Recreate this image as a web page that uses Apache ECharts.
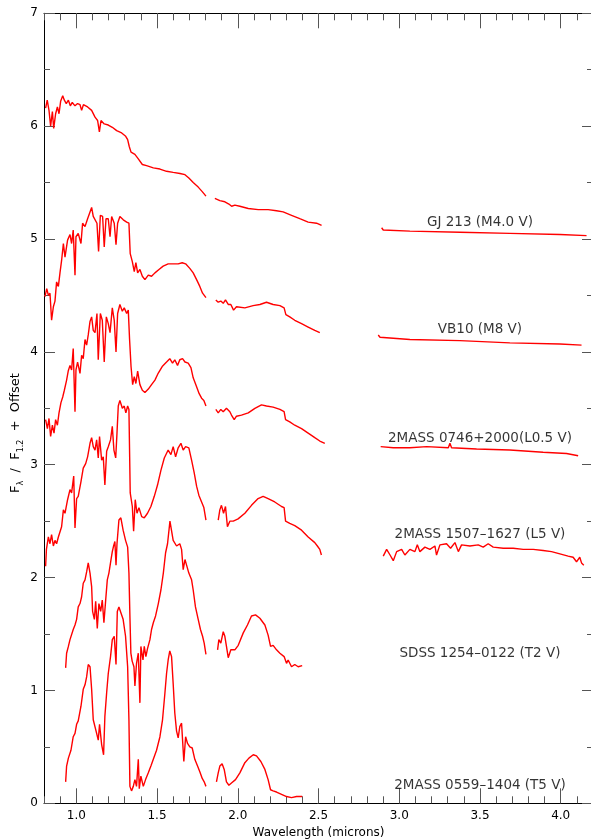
<!DOCTYPE html>
<html>
  <head>
    <meta charset="UTF-8" />
    <title>Spectral sequence</title>
    <script src="https://cdn.jsdelivr.net/npm/echarts@6/dist/echarts.min.js"></script>
    <style>
      html, body { margin: 0; padding: 0; background: #fff; }
      #main { width: 591px; height: 840px; }
    </style>
  </head>
  <body>
    <div id="main"></div>
    <script>
      // tick labels
      const majorX = [1.0, 1.5, 2.0, 2.5, 3.0, 3.5, 4.0];

      // star names, label anchors (wavelength, flux)
      const starNames = ['GJ 213 (M4.0 V)', 'VB10 (M8 V)', '2MASS 0746+2000(L0.5 V)',
        '2MASS 1507–1627 (L5 V)', 'SDSS 1254–0122 (T2 V)', '2MASS 0559–1404 (T5 V)'];
      const labelX = 3.5;
      const labelY = [5.15, 4.20, 3.23, 2.38, 1.33, 0.16];

      // spectra: [wavelength, flux + offset], split where the data has gaps
      const gj213A = [[0.810,6.16],[0.820,6.23],[0.831,6.14],[0.841,6.00],[0.852,6.13],[0.860,5.98],[0.872,6.11],[0.883,6.17],[0.893,6.11],[0.903,6.22],[0.916,6.27],[0.926,6.23],[0.938,6.20],[0.951,6.23],[0.963,6.18],[0.975,6.21],[0.992,6.18],[1.008,6.20],[1.023,6.19],[1.033,6.14],[1.044,6.19],[1.070,6.17],[1.095,6.14],[1.116,6.08],[1.132,6.05],[1.143,5.95],[1.153,6.05],[1.173,6.02],[1.198,6.01],[1.223,5.99],[1.250,5.96],[1.281,5.94],[1.306,5.91],[1.318,5.88],[1.328,5.82],[1.339,5.77],[1.363,5.75],[1.384,5.71],[1.409,5.66],[1.435,5.65],[1.477,5.63],[1.518,5.62],[1.559,5.60],[1.600,5.59],[1.642,5.58],[1.673,5.57],[1.697,5.54],[1.724,5.50],[1.755,5.46],[1.780,5.42],[1.803,5.38]];
      const gj213B = [[1.858,5.36],[1.889,5.34],[1.920,5.33],[1.945,5.31],[1.962,5.29],[1.982,5.30],[2.013,5.29],[2.065,5.27],[2.127,5.26],[2.188,5.26],[2.240,5.25],[2.281,5.24],[2.333,5.21],[2.384,5.18],[2.436,5.15],[2.488,5.14],[2.519,5.12]];
      const gj213C = [[2.891,5.10],[2.901,5.08],[3.066,5.07],[3.376,5.06],[3.685,5.05],[3.995,5.04],[4.160,5.03]];

      const vb10A = [[0.806,4.49],[0.817,4.56],[0.827,4.50],[0.837,4.52],[0.847,4.28],[0.858,4.40],[0.868,4.45],[0.878,4.62],[0.889,4.58],[0.899,4.70],[0.909,4.81],[0.920,4.96],[0.930,4.84],[0.946,4.99],[0.961,5.04],[0.971,4.96],[0.981,5.08],[0.992,4.68],[0.998,5.02],[1.012,5.05],[1.029,4.96],[1.039,5.14],[1.054,5.11],[1.070,5.18],[1.085,5.24],[1.095,5.28],[1.105,5.20],[1.116,5.21],[1.128,5.14],[1.138,4.89],[1.149,5.21],[1.163,5.20],[1.173,4.93],[1.184,5.18],[1.198,5.18],[1.209,5.02],[1.219,5.20],[1.235,5.14],[1.246,4.95],[1.256,5.14],[1.270,5.20],[1.291,5.17],[1.312,5.15],[1.326,5.14],[1.334,4.87],[1.347,4.80],[1.359,4.71],[1.369,4.79],[1.380,4.70],[1.394,4.73],[1.409,4.67],[1.425,4.64],[1.446,4.68],[1.466,4.67],[1.487,4.70],[1.512,4.73],[1.538,4.76],[1.569,4.78],[1.600,4.78],[1.631,4.78],[1.656,4.79],[1.677,4.78],[1.703,4.74],[1.724,4.70],[1.745,4.64],[1.765,4.58],[1.782,4.52],[1.803,4.48]];
      const vb10B = [[1.864,4.46],[1.879,4.44],[1.895,4.45],[1.910,4.43],[1.924,4.46],[1.941,4.42],[1.957,4.42],[1.974,4.37],[1.992,4.40],[2.044,4.39],[2.095,4.41],[2.137,4.42],[2.178,4.44],[2.219,4.42],[2.261,4.41],[2.287,4.39],[2.298,4.33],[2.322,4.31],[2.353,4.28],[2.395,4.25],[2.436,4.22],[2.477,4.19],[2.508,4.17]];
      const vb10C = [[2.870,4.15],[2.881,4.13],[3.066,4.11],[3.376,4.10],[3.685,4.08],[3.995,4.07],[4.129,4.06]];

      const l05A = [[0.810,3.40],[0.821,3.32],[0.831,3.41],[0.841,3.25],[0.852,3.35],[0.862,3.28],[0.872,3.40],[0.883,3.35],[0.893,3.46],[0.905,3.55],[0.916,3.60],[0.926,3.66],[0.940,3.75],[0.950,3.83],[0.961,3.88],[0.971,3.84],[0.981,4.03],[0.992,3.47],[0.998,3.84],[1.008,3.91],[1.023,3.81],[1.033,3.97],[1.043,3.94],[1.054,4.11],[1.064,4.06],[1.074,4.15],[1.085,4.27],[1.095,4.31],[1.105,4.19],[1.116,4.17],[1.128,4.34],[1.136,3.93],[1.149,4.34],[1.161,4.28],[1.173,3.91],[1.186,4.31],[1.198,4.25],[1.209,4.17],[1.223,4.39],[1.235,4.28],[1.246,4.00],[1.256,4.34],[1.270,4.42],[1.285,4.36],[1.297,4.39],[1.312,4.34],[1.322,4.37],[1.330,4.11],[1.339,3.87],[1.349,3.71],[1.359,3.78],[1.369,3.72],[1.380,3.83],[1.394,3.71],[1.409,3.66],[1.425,3.64],[1.446,3.67],[1.466,3.71],[1.487,3.75],[1.507,3.81],[1.532,3.87],[1.559,3.91],[1.579,3.94],[1.596,3.90],[1.610,3.93],[1.627,3.88],[1.641,3.93],[1.658,3.94],[1.673,3.91],[1.693,3.90],[1.710,3.86],[1.724,3.77],[1.745,3.69],[1.761,3.63],[1.776,3.59],[1.790,3.57],[1.803,3.52]];
      const l05B = [[1.864,3.49],[1.879,3.46],[1.895,3.49],[1.910,3.47],[1.930,3.50],[1.951,3.47],[1.961,3.44],[1.978,3.40],[1.992,3.43],[2.023,3.44],[2.065,3.46],[2.106,3.50],[2.147,3.53],[2.178,3.52],[2.219,3.51],[2.261,3.49],[2.287,3.47],[2.296,3.40],[2.322,3.38],[2.353,3.35],[2.395,3.32],[2.436,3.28],[2.477,3.24],[2.508,3.21],[2.539,3.19]];
      const l05C = [[2.885,3.16],[2.963,3.15],[3.066,3.15],[3.170,3.16],[3.304,3.15],[3.314,3.19],[3.324,3.15],[3.479,3.14],[3.685,3.13],[3.891,3.11],[4.036,3.10],[4.108,3.08]];

      const l5A = [[0.810,2.10],[0.815,2.25],[0.827,2.36],[0.837,2.30],[0.847,2.38],[0.858,2.28],[0.868,2.33],[0.878,2.30],[0.889,2.36],[0.909,2.45],[0.920,2.60],[0.930,2.57],[0.946,2.69],[0.961,2.78],[0.971,2.75],[0.984,2.90],[0.992,2.44],[1.002,2.70],[1.012,2.72],[1.029,2.85],[1.043,2.97],[1.058,3.01],[1.070,3.07],[1.085,3.19],[1.095,3.24],[1.105,3.16],[1.116,3.13],[1.126,3.22],[1.136,3.06],[1.144,3.25],[1.157,3.04],[1.167,3.07],[1.177,2.82],[1.188,3.12],[1.198,3.16],[1.212,3.22],[1.223,3.34],[1.233,3.13],[1.244,3.06],[1.252,3.28],[1.260,3.52],[1.270,3.57],[1.285,3.50],[1.297,3.52],[1.307,3.46],[1.318,3.52],[1.326,3.49],[1.334,2.75],[1.347,2.63],[1.355,2.41],[1.365,2.69],[1.376,2.57],[1.388,2.62],[1.405,2.54],[1.421,2.53],[1.441,2.57],[1.462,2.63],[1.483,2.72],[1.503,2.82],[1.524,2.95],[1.545,3.06],[1.569,3.13],[1.586,3.09],[1.600,3.16],[1.615,3.07],[1.631,3.15],[1.648,3.19],[1.662,3.13],[1.677,3.16],[1.697,3.15],[1.714,3.04],[1.730,2.93],[1.745,2.81],[1.759,2.73],[1.776,2.67],[1.790,2.62],[1.803,2.51]];
      const l5B = [[1.879,2.51],[1.889,2.60],[1.899,2.64],[1.912,2.57],[1.924,2.63],[1.936,2.45],[1.951,2.50],[1.972,2.50],[2.002,2.52],[2.044,2.57],[2.085,2.64],[2.126,2.70],[2.157,2.72],[2.188,2.70],[2.229,2.67],[2.271,2.63],[2.287,2.62],[2.296,2.50],[2.322,2.48],[2.353,2.46],[2.395,2.42],[2.436,2.36],[2.477,2.31],[2.493,2.28],[2.508,2.25],[2.518,2.20]];
      const l5C = [[2.901,2.19],[2.922,2.25],[2.943,2.20],[2.963,2.15],[2.984,2.23],[3.015,2.25],[3.035,2.20],[3.066,2.25],[3.097,2.23],[3.112,2.29],[3.128,2.23],[3.159,2.27],[3.190,2.25],[3.221,2.28],[3.231,2.20],[3.252,2.29],[3.293,2.30],[3.318,2.26],[3.345,2.31],[3.366,2.23],[3.386,2.29],[3.438,2.28],[3.489,2.29],[3.520,2.27],[3.551,2.30],[3.582,2.27],[3.644,2.26],[3.706,2.26],[3.768,2.25],[3.830,2.25],[3.891,2.24],[3.943,2.23],[3.995,2.21],[4.046,2.19],[4.077,2.18],[4.098,2.14],[4.118,2.18],[4.129,2.13],[4.143,2.11]];

      const t2A = [[0.934,1.20],[0.940,1.33],[0.951,1.39],[0.961,1.45],[0.971,1.45],[0.981,1.54],[0.992,1.58],[1.002,1.63],[1.012,1.74],[1.023,1.77],[1.033,1.83],[1.043,1.95],[1.054,1.98],[1.064,2.05],[1.074,2.13],[1.085,2.04],[1.095,1.92],[1.101,1.70],[1.112,1.63],[1.120,1.79],[1.130,1.55],[1.140,1.77],[1.151,1.70],[1.161,1.80],[1.171,1.60],[1.182,1.80],[1.192,1.98],[1.202,2.04],[1.215,2.16],[1.223,2.23],[1.231,2.28],[1.239,2.32],[1.246,2.11],[1.252,2.30],[1.264,2.51],[1.276,2.53],[1.290,2.42],[1.305,2.33],[1.318,2.27],[1.326,2.04],[1.332,1.66],[1.338,1.33],[1.346,1.26],[1.357,1.21],[1.363,1.04],[1.373,1.24],[1.384,1.33],[1.394,0.89],[1.400,1.39],[1.413,1.27],[1.421,1.39],[1.431,1.30],[1.441,1.37],[1.456,1.45],[1.466,1.54],[1.477,1.60],[1.491,1.66],[1.508,1.77],[1.524,1.89],[1.539,2.04],[1.553,2.22],[1.565,2.30],[1.580,2.50],[1.590,2.49],[1.600,2.33],[1.621,2.28],[1.641,2.30],[1.652,2.25],[1.662,2.07],[1.673,2.16],[1.683,2.11],[1.697,2.04],[1.714,1.98],[1.724,1.89],[1.738,1.74],[1.755,1.63],[1.769,1.54],[1.782,1.48],[1.792,1.42],[1.803,1.32]];
      const t2B = [[1.875,1.36],[1.883,1.45],[1.895,1.42],[1.910,1.52],[1.920,1.48],[1.930,1.39],[1.941,1.29],[1.957,1.36],[1.982,1.36],[2.003,1.40],[2.034,1.51],[2.060,1.58],[2.085,1.66],[2.110,1.67],[2.137,1.64],[2.168,1.58],[2.188,1.49],[2.203,1.39],[2.219,1.40],[2.240,1.36],[2.261,1.33],[2.287,1.30],[2.302,1.24],[2.312,1.27],[2.333,1.21],[2.353,1.23],[2.374,1.21],[2.399,1.22]];

      const t5A = [[0.934,0.19],[0.940,0.33],[0.951,0.40],[0.967,0.47],[0.981,0.59],[0.992,0.62],[1.002,0.70],[1.012,0.73],[1.029,0.86],[1.043,1.01],[1.054,1.05],[1.064,1.12],[1.074,1.23],[1.085,1.21],[1.095,1.01],[1.105,0.74],[1.116,0.73],[1.126,0.62],[1.136,0.56],[1.144,0.70],[1.157,0.52],[1.169,0.43],[1.177,0.77],[1.188,0.98],[1.198,1.15],[1.212,1.30],[1.223,1.45],[1.235,1.48],[1.246,1.23],[1.254,1.70],[1.264,1.74],[1.276,1.73],[1.290,1.63],[1.305,1.48],[1.318,1.21],[1.326,0.74],[1.332,0.15],[1.342,0.11],[1.353,0.15],[1.363,0.21],[1.373,0.15],[1.384,0.39],[1.390,0.13],[1.400,0.24],[1.415,0.15],[1.429,0.21],[1.446,0.27],[1.462,0.33],[1.477,0.39],[1.497,0.47],[1.518,0.59],[1.534,0.74],[1.549,0.98],[1.559,1.15],[1.569,1.27],[1.579,1.35],[1.590,1.30],[1.600,1.06],[1.610,0.80],[1.621,0.64],[1.631,0.58],[1.641,0.68],[1.652,0.71],[1.666,0.37],[1.677,0.59],[1.689,0.53],[1.703,0.50],[1.718,0.49],[1.734,0.39],[1.751,0.33],[1.765,0.28],[1.780,0.22],[1.792,0.19],[1.803,0.15]];
      const t5B = [[1.868,0.19],[1.879,0.27],[1.889,0.33],[1.903,0.35],[1.916,0.30],[1.930,0.19],[1.945,0.16],[1.961,0.18],[1.986,0.21],[2.013,0.27],[2.044,0.36],[2.069,0.40],[2.096,0.43],[2.116,0.42],[2.143,0.37],[2.168,0.30],[2.188,0.21],[2.203,0.12],[2.219,0.11],[2.240,0.10],[2.271,0.08],[2.302,0.06],[2.333,0.05],[2.364,0.06],[2.399,0.06]];

      const segments = [gj213A, gj213B, gj213C, vb10A, vb10B, vb10C, l05A, l05B, l05C,
        l5A, l5B, l5C, t2A, t2B, t5A, t5B];

      const FONT = 'DejaVu Sans';
      const tickStyle = { color: '#555', width: 1 };
      const axisStyle = { color: '#000', width: 1 };

      const xMajor = (position, labels) => ({
        type: 'value', position, min: 0.8, max: 4.2,
        axisLine: { onZero: false, lineStyle: axisStyle },
        axisTick: { inside: true, length: 15, customValues: majorX, lineStyle: tickStyle },
        axisLabel: labels
          ? { customValues: majorX, formatter: (v) => v.toFixed(1), margin: 7, fontSize: 12, fontFamily: FONT, color: '#000' }
          : { show: false },
        splitLine: { show: false },
      });
      const xMinor = (position) => ({
        type: 'value', position, min: 0.8, max: 4.2, interval: 0.1,
        axisLine: { show: false, onZero: false },
        axisTick: { inside: true, length: 7, lineStyle: tickStyle },
        axisLabel: { show: false },
        splitLine: { show: false },
      });
      const yAx = (position, labels) => ({
        type: 'value', position, min: 0, max: 7, interval: 1,
        axisLine: { show: true, onZero: false, lineStyle: axisStyle },
        axisTick: { show: true, inside: true, length: 11, lineStyle: tickStyle },
        minorTick: { show: true, splitNumber: 2, length: 6, lineStyle: tickStyle },
        axisLabel: labels
          ? { margin: 6, fontSize: 12, fontFamily: FONT, color: '#000' }
          : { show: false },
        splitLine: { show: false },
      });

      const xBottom = xMajor('bottom', true);
      xBottom.name = 'Wavelength (microns)';
      xBottom.nameLocation = 'middle';
      xBottom.nameGap = 22;
      xBottom.nameTextStyle = { fontSize: 12, fontFamily: FONT, color: '#000' };

      const series = segments.map((seg) => ({
        type: 'line',
        data: seg,
        xAxisIndex: 0,
        yAxisIndex: 0,
        showSymbol: false,
        silent: true,
        lineStyle: { color: '#ff0000', width: 1.4 },
      }));
      series.push({
        type: 'scatter',
        xAxisIndex: 0,
        yAxisIndex: 0,
        silent: true,
        symbolSize: 1,
        itemStyle: { color: 'rgba(0,0,0,0)' },
        data: starNames.map((n, i) => ({ name: n, value: [labelX, labelY[i]] })),
        label: {
          show: true, position: 'inside', formatter: '{b}',
          fontSize: 13.5, fontFamily: FONT, color: '#000',
        },
        z: 5,
      });

      const chart = echarts.init(document.getElementById('main'));
      chart.setOption({
        animation: false,
        backgroundColor: '#fff',
        grid: { left: 44, top: 13.3, width: 549, height: 790, outerBoundsMode: 'none' },
        xAxis: [xBottom, xMinor('bottom'), xMajor('top', false), xMinor('top')],
        yAxis: [yAx('left', true), yAx('right', false)],
        graphic: [{
          type: 'text',
          x: 16,
          y: 433,
          rotation: Math.PI / 2,
          style: {
            text: '{f|F}{s|λ}{f|  /  F}{s|1.2}{f|  +  Offset}',
            align: 'center',
            verticalAlign: 'middle',
            fill: '#000',
            rich: {
              f: { fontSize: 13, fontFamily: FONT, fill: '#000', lineHeight: 17 },
              s: { fontSize: 8, fontFamily: FONT, fill: '#000', verticalAlign: 'bottom', lineHeight: 12 },
            },
          },
        }],
        series,
      });
    </script>
  </body>
</html>
